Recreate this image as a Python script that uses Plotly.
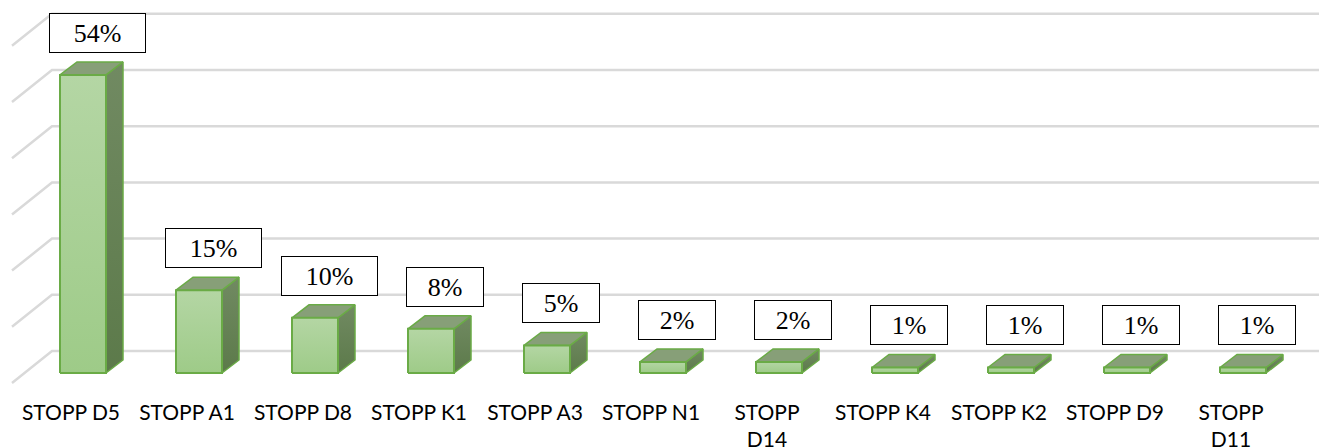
"""
3D-style column chart of STOPP criteria shares, drawn with plain Plotly
scatter polygons (front / side / top faces) on a fake back wall.
"""

import plotly.graph_objects as go

# --- data -------------------------------------------------------------------
categories = [
    "STOPP D5", "STOPP A1", "STOPP D8", "STOPP K1", "STOPP A3", "STOPP N1",
    "STOPP D14", "STOPP K4", "STOPP K2", "STOPP D9", "STOPP D11",
]
tick_labels = [
    "STOPP D5", "STOPP A1", "STOPP D8", "STOPP K1", "STOPP A3", "STOPP N1",
    "STOPP<br>D14", "STOPP K4", "STOPP K2", "STOPP D9", "STOPP<br>D11",
]
shares = [54, 15, 10, 8, 5, 2, 2, 1, 1, 1, 1]  # percent
grid_values = [0, 10, 20, 30, 40, 50, 60]

# --- geometry (pixels -> axis units) ---------------------------------------
W, H = 1319, 448
MB = 50                      # bottom margin for category labels
PX_X = 116.0                 # px per category
PX_Y = 5.52                  # px per percent (front plane)
WALL_SCALE = 5.62 / PX_Y     # back wall is drawn a touch taller
X0 = -83 / PX_X              # x range start so category 0 sits at 83 px
Y0 = -25 / PX_Y              # y range start so 0 % sits at 373 px
X1 = X0 + W / PX_X
Y1 = Y0 + (H - MB) / PX_Y

HALF_W = 23 / PX_X           # half width of the front face
DEPTH_X, DEPTH_Y = 17 / PX_X, 13 / PX_Y   # bar depth
WALL_X, WALL_Y = 28 / PX_X, 22 / PX_Y     # bar front -> back wall
FLOOR_X, FLOOR_Y = -12 / PX_X, -10 / PX_Y  # bar front -> floor front
LEFT_X = X0 + 12 / PX_X      # left edge of the floor
LABEL_SHIFT = -12 / PX_X     # category labels sit a bit left of the bars

EDGE = "#6aab46"
GRID = "#d9d9d9"

fig = go.Figure()

# --- back wall gridlines + left diagonals ----------------------------------
for g in grid_values:
    gy = g * WALL_SCALE
    fig.add_trace(
        go.Scatter(
            x=[LEFT_X, LEFT_X + WALL_X - FLOOR_X, X1 + 1],
            y=[gy + FLOOR_Y, gy + WALL_Y, gy + WALL_Y],
            mode="lines",
            line=dict(color=GRID, width=2.5),
            hoverinfo="skip",
            showlegend=False,
        )
    )

# --- bars -------------------------------------------------------------------
for i, (name, v) in enumerate(zip(categories, shares)):
    xl, xr = i - HALF_W, i + HALF_W
    # side face
    fig.add_trace(
        go.Scatter(
            x=[xr, xr + DEPTH_X, xr + DEPTH_X, xr, xr],
            y=[0, DEPTH_Y, v + DEPTH_Y, v, 0],
            mode="lines",
            fill="toself",
            fillgradient=dict(
                type="vertical",
                colorscale=[[0, "#5c7a4a"], [1, "#718a62"]],
            ),
            line=dict(color=EDGE, width=1.5),
            hoverinfo="skip",
            showlegend=False,
        )
    )
    # top face
    fig.add_trace(
        go.Scatter(
            x=[xl, xr, xr + DEPTH_X, xl + DEPTH_X, xl],
            y=[v, v, v + DEPTH_Y, v + DEPTH_Y, v],
            mode="lines",
            fill="toself",
            fillcolor="#879f78",
            line=dict(color=EDGE, width=1.5),
            hoverinfo="skip",
            showlegend=False,
        )
    )
    # front face
    fig.add_trace(
        go.Scatter(
            x=[xl, xr, xr, xl, xl],
            y=[0, 0, v, v, 0],
            mode="lines",
            fill="toself",
            fillgradient=dict(
                type="vertical",
                colorscale=[[0, "#9ecb88"], [1, "#b4d6a4"]],
            ),
            line=dict(color=EDGE, width=2),
            name=name,
            hovertemplate=f"<b>{name}</b><br>{v}%<extra></extra>",
            showlegend=False,
        )
    )
    # value label
    fig.add_annotation(
        x=i + 14 / PX_X,
        y=v + DEPTH_Y,
        yshift=9,
        yanchor="bottom",
        text=f"{v}%",
        showarrow=False,
        font=dict(family="Liberation Serif", size=26, color="black"),
        bgcolor="white",
        bordercolor="black",
        borderwidth=1,
        borderpad=0,
        width=95 if v >= 10 else 76,
        height=38,
    )

# --- layout -----------------------------------------------------------------
fig.update_layout(
    width=W,
    height=H,
    margin=dict(l=0, r=0, t=0, b=MB),
    plot_bgcolor="white",
    paper_bgcolor="white",
    showlegend=False,
    xaxis=dict(
        range=[X0, X1],
        tickmode="array",
        tickvals=[i + LABEL_SHIFT for i in range(len(categories))],
        ticktext=tick_labels,
        showgrid=False,
        zeroline=False,
        showline=False,
        ticks="",
        automargin=False,
        tickfont=dict(family="Lato", size=21, color="black"),
        fixedrange=True,
    ),
    yaxis=dict(
        range=[Y0, Y1],
        showgrid=False,
        zeroline=False,
        showline=False,
        showticklabels=False,
        ticks="",
        automargin=False,
        fixedrange=True,
    ),
)

fig.write_html(
    "out.html",
    config={"displayModeBar": False},
    post_script="document.body.style.margin='0';",
)
